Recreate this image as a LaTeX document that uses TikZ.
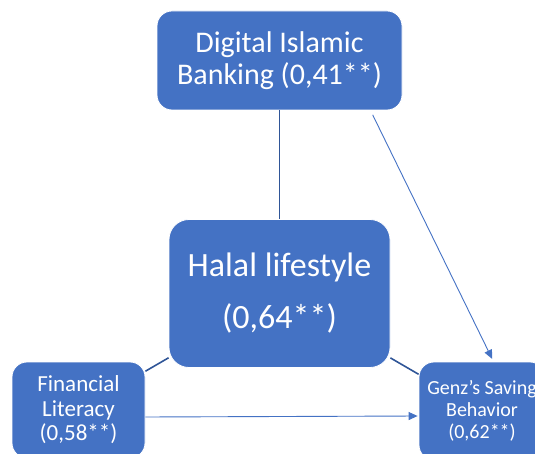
\documentclass[tikz,border=0pt]{standalone}
\usepackage{fontspec}
\setmainfont{Carlito}
\usetikzlibrary{arrows.meta,calc}
\definecolor{boxblue}{RGB}{68,114,196}
\definecolor{linkblue}{RGB}{47,85,151}

\begin{document}
\begin{tikzpicture}[x=1pt,y=-1pt,
		block/.style={draw=white, line width=0.8pt, fill=boxblue, text=white, align=center, inner sep=0pt},
		link/.style={draw=linkblue, line width=1.6pt},
		effect/.style={draw=boxblue, line width=0.9pt, ->, >={Triangle[length=9pt,width=8pt]}}]
		\clip (0,0) rectangle (535,454);
		\node[block, rounded corners=15pt, minimum width=245pt, minimum height=99pt, font=\fontsize{30}{32}\selectfont] (dib) at (279.5,60.5) {Digital Islamic\\Banking (0,41**)};
		\node[block, rounded corners=20pt, minimum width=221pt, minimum height=148pt, font=\fontsize{34}{52}\selectfont] (halal) at (279.5,293.5) {Halal lifestyle\\(0,64**)};
		\node[block, rounded corners=15pt, minimum width=133pt, minimum height=96pt, font=\fontsize{23}{24.5}\selectfont] (fin) at (78.5,410) {Financial\\Literacy\\(0,58**)};
		\node[block, rounded corners=15pt, minimum width=126pt, minimum height=98pt, font=\fontsize{20}{22}\selectfont] (genz) at (482,411) {Genz’s Saving\\Behavior\\(0,62**)};
		\draw[link] (dib) -- (halal);
		\draw[link] (fin) -- (halal);
		\draw[link] (halal) -- (genz);
		\draw[effect, shorten <=5pt, shorten >=3pt] ($(dib.south)+(91,0)$) -- ($(genz.north)+(11.5,0)$);
		\draw[effect, shorten >=1pt] ($(fin.east)+(0,7)$) -- ($(genz.west)+(0,5)$);
\end{tikzpicture}
\end{document}
